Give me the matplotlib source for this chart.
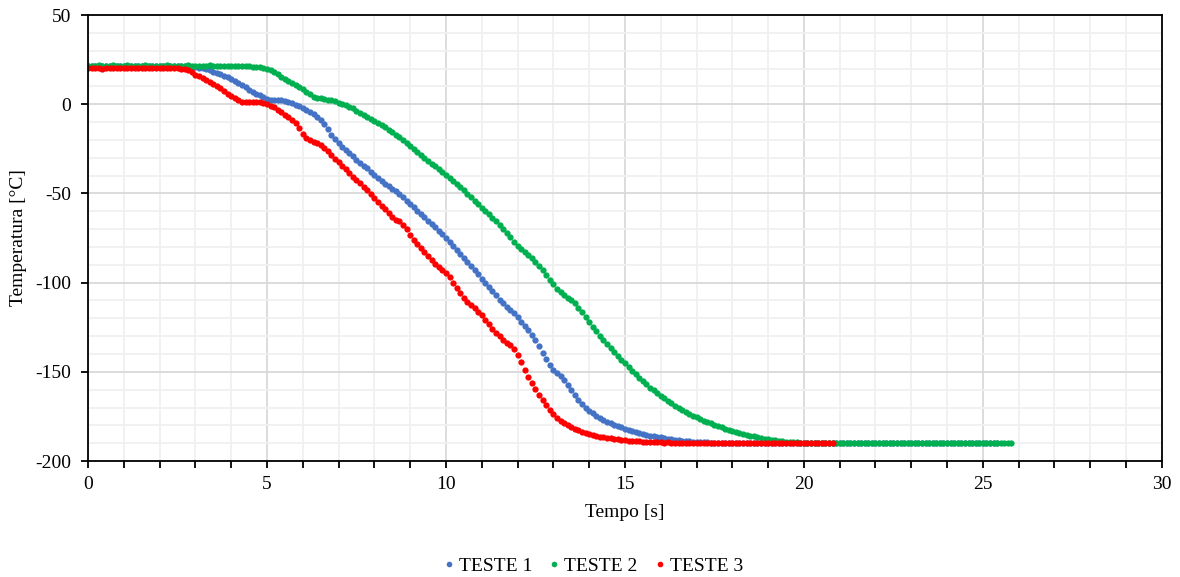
import numpy as np
import matplotlib
matplotlib.use("Agg")
import matplotlib.pyplot as plt
from matplotlib.ticker import MultipleLocator

# acquisition interval of the logger [s]
SAMPLE_DT = 0.1

# TESTE 1 temperatures [°C], one row per second
teste1 = [
    21.2, 21.3, 21.2, 21.4, 21.3, 21.2, 21.3, 21.4, 21.3, 21.2,
    21.3, 21.4, 21.3, 21.2, 21.3, 21.3, 21.4, 21.2, 21.3, 21.3,
    21.2, 21.3, 21.4, 21.3, 21.2, 21.3, 21.2, 21.3, 21.1, 21.0,
    20.8, 20.5, 20.1, 19.6, 19.0, 18.3, 17.6, 16.8, 15.9, 15.0,
    14.0, 12.9, 11.8, 10.7, 9.6, 8.2, 7.0, 5.9, 5.0, 3.9,
    3.0, 2.6, 2.4, 2.3, 2.1, 1.8, 1.3, 0.6, -0.2, -1.1,
    -2.0, -3.1, -4.3, -5.6, -7.0, -8.6, -11.0, -14.0, -17.0, -19.5,
    -22.0, -24.0, -25.8, -27.5, -29.3, -31.0, -32.8, -34.5, -36.0, -37.8,
    -39.6, -41.4, -43.0, -44.5, -46.0, -47.4, -48.9, -50.5, -52.2, -54.0,
    -55.8, -57.7, -59.6, -61.5, -63.4, -65.3, -67.2, -69.0, -71.0, -73.0,
    -75.0, -77.2, -79.4, -81.7, -84.0, -86.3, -88.6, -90.9, -93.1, -95.4,
    -97.7, -100.0, -102.4, -104.8, -107.2, -109.6, -111.6, -113.5, -115.3, -117.2,
    -119.4, -121.8, -124.2, -126.7, -129.2, -132.4, -135.8, -139.2, -142.6, -146.0,
    -149.0, -150.8, -152.6, -154.8, -157.4, -160.2, -163.0, -165.6, -168.0, -170.0,
    -171.8, -173.3, -174.7, -175.9, -177.0, -178.0, -178.9, -179.7, -180.5, -181.2,
    -181.9, -182.6, -183.2, -183.8, -184.3, -184.8, -185.3, -185.7, -186.1, -186.5,
    -186.8, -187.1, -187.4, -187.7, -188.0, -188.2, -188.5, -188.7, -188.9, -189.1,
    -189.3, -189.4, -189.5, -189.6, -189.7, -189.8, -189.7, -189.8, -189.9, -189.8,
    -189.8, -189.9, -189.7, -189.8, -189.9, -189.8, -189.8, -189.7, -189.9, -189.8,
    -189.9, -189.8, -189.8, -189.7, -189.8, -189.9, -189.8, -189.8, -189.9, -189.7,
    -189.8, -189.8, -189.9, -189.8, -189.7, -189.8, -189.9, -189.8, -189.8, -189.9,
    -189.8, -189.7, -189.8, -189.9, -189.8, -189.8, -189.7, -189.8, -189.9, -189.8,
    -189.8, -189.9, -189.8, -189.7, -189.8, -189.8, -189.9, -189.8, -189.8, -189.7,
    -189.9, -189.8, -189.8, -189.7, -189.8, -189.9, -189.8, -189.8, -189.7, -189.8,
    -189.8, -189.9, -189.8, -189.8, -189.7, -189.8, -189.9, -189.8, -189.8, -189.9,
    -189.8, -189.9, -189.8, -189.7, -189.8,
]

# TESTE 2 temperatures [°C]
teste2 = [
    21.5, 21.6, 21.5, 21.7, 21.6, 21.5, 21.6, 21.7, 21.6, 21.5,
    21.6, 21.7, 21.6, 21.5, 21.6, 21.6, 21.7, 21.5, 21.6, 21.6,
    21.5, 21.6, 21.7, 21.6, 21.5, 21.6, 21.5, 21.6, 21.7, 21.6,
    21.5, 21.6, 21.5, 21.6, 21.7, 21.6, 21.5, 21.6, 21.5, 21.6,
    21.6, 21.5, 21.6, 21.5, 21.5, 21.3, 21.1, 20.9, 20.6, 20.3,
    19.9, 19.2, 18.2, 16.9, 15.5, 14.2, 13.1, 12.1, 11.0, 9.8,
    8.5, 7.0, 5.5, 4.3, 3.6, 3.2, 2.9, 2.6, 2.2, 1.6,
    0.9, 0.3, -0.4, -1.3, -2.4, -3.6, -4.8, -6.0, -7.2, -8.3,
    -9.4, -10.6, -11.8, -13.0, -14.3, -15.7, -17.1, -18.5, -20.0, -21.6,
    -23.2, -24.9, -26.6, -28.3, -30.0, -31.7, -33.3, -34.9, -36.5, -38.2,
    -39.9, -41.5, -43.1, -44.6, -46.2, -48.1, -50.1, -52.1, -54.1, -56.1,
    -58.1, -60.0, -61.8, -63.6, -65.5, -67.6, -69.9, -72.3, -74.7, -77.1,
    -79.2, -81.0, -82.7, -84.4, -86.2, -88.3, -90.6, -93.1, -95.7, -98.4,
    -101.0, -103.3, -105.3, -107.0, -108.4, -109.8, -111.6, -114.0, -116.7, -119.5,
    -122.2, -124.8, -127.3, -129.7, -132.0, -134.3, -136.5, -138.7, -141.0, -143.2,
    -145.3, -147.4, -149.5, -151.5, -153.5, -155.4, -157.1, -158.8, -160.4, -162.0,
    -163.5, -164.9, -166.3, -167.6, -168.9, -170.1, -171.3, -172.4, -173.5, -174.5,
    -175.5, -176.4, -177.3, -178.1, -178.9, -179.7, -180.4, -181.1, -181.8, -182.4,
    -183.0, -183.6, -184.2, -184.7, -185.2, -185.7, -186.2, -186.6, -187.0, -187.4,
    -187.8, -188.1, -188.4, -188.7, -188.9, -189.1, -189.3, -189.5, -189.6, -189.7,
    -189.8, -189.9, -189.8, -190.0, -189.9, -190.0, -189.9, -190.1, -190.0, -189.9,
    -190.0, -190.1, -189.9, -190.0, -190.0, -189.9, -190.1, -190.0, -189.9, -190.0,
    -190.0, -189.9, -190.0, -190.1, -190.0, -189.9, -190.0, -190.0, -190.1, -189.9,
    -190.0, -190.0, -189.9, -190.0, -190.1, -190.0, -189.9, -190.0, -190.0, -190.1,
    -189.9, -190.0, -190.0, -190.1, -189.9, -190.0, -190.0, -189.9, -190.1, -190.0,
    -190.0, -189.9, -190.0, -190.1, -190.0, -190.0, -189.9, -190.0, -190.0,
]

# TESTE 3 temperatures [°C]
teste3 = [
    20.2, 20.1, 20.3, 20.2, 20.0, 20.2, 20.3, 20.1, 20.2, 20.3,
    20.2, 20.1, 20.2, 20.3, 20.2, 20.1, 20.2, 20.2, 20.3, 20.1,
    20.2, 20.3, 20.1, 20.2, 20.2, 20.1, 20.0, 19.6, 18.9, 17.8,
    16.6, 15.6, 14.6, 13.6, 12.6, 11.5, 10.3, 9.0, 7.5, 6.0,
    4.5, 3.2, 2.2, 1.5, 1.3, 1.3, 1.4, 1.3, 1.1, 0.6,
    0.0, -0.8, -1.8, -3.0, -4.4, -5.8, -7.2, -8.6, -10.6, -13.5,
    -16.6, -19.0, -20.3, -21.2, -22.0, -22.9, -24.3, -26.3, -28.5, -30.7,
    -32.6, -34.4, -36.5, -38.6, -40.6, -42.5, -44.3, -46.2, -48.2, -50.3,
    -52.4, -54.6, -56.8, -59.0, -61.2, -63.3, -64.8, -65.7, -67.6, -70.2,
    -73.1, -76.0, -78.5, -80.6, -82.7, -85.0, -87.4, -89.5, -91.3, -92.8,
    -94.6, -97.0, -100.0, -103.1, -106.0, -108.4, -110.6, -112.6, -114.5, -116.3,
    -118.3, -120.7, -123.3, -125.9, -128.2, -130.2, -132.0, -133.6, -135.2, -137.2,
    -140.3, -144.5, -148.8, -152.8, -156.4, -159.9, -163.1, -166.0, -168.8, -171.4,
    -173.7, -175.7, -177.3, -178.6, -179.8, -180.9, -181.9, -182.8, -183.6, -184.3,
    -184.9, -185.4, -185.9, -186.3, -186.7, -187.0, -187.3, -187.6, -187.9, -188.1,
    -188.3, -188.5, -188.7, -188.8, -188.9, -189.1, -189.2, -189.3, -189.4, -189.5,
    -189.6, -189.7, -189.6, -189.8, -189.7, -189.9, -189.8, -190.0, -189.8, -189.9,
    -190.0, -189.8, -189.9, -190.1, -189.9, -189.8, -190.0, -189.9, -190.1, -189.9,
    -189.8, -190.0, -189.9, -190.0, -190.1, -189.9, -189.8, -190.0, -189.9, -190.0,
    -190.1, -189.9, -190.0, -189.8, -190.0, -189.9, -190.1, -190.0, -189.9, -190.0,
    -189.9, -190.0, -190.1, -189.9, -190.0, -189.8, -190.0, -189.9, -190.0,
]

series_names = ["TESTE 1", "TESTE 2", "TESTE 3"]
series_values = [teste1, teste2, teste3]
series_colors = ["#4472C4", "#00B050", "#FF0000"]

plt.rcParams["font.family"] = ["Liberation Serif", "DejaVu Serif"]
plt.rcParams["axes.unicode_minus"] = False

fig = plt.figure(figsize=(11.8, 5.77), dpi=100)
ax = fig.add_axes([0.0746, 0.201, 0.910, 0.773])

for name, vals, col in zip(series_names, series_values, series_colors):
    t = np.arange(len(vals)) * SAMPLE_DT
    ax.plot(t, vals, linestyle="none", marker="o", markersize=4.5,
            markeredgewidth=0, color=col, label=name)

ax.set_xlim(0, 30)
ax.set_ylim(-200, 50)
ax.xaxis.set_major_locator(MultipleLocator(5))
ax.xaxis.set_minor_locator(MultipleLocator(1))
ax.yaxis.set_major_locator(MultipleLocator(50))
ax.yaxis.set_minor_locator(MultipleLocator(10))

ax.grid(which="major", color="#D9D9D9", linewidth=1.3)
ax.grid(which="minor", color="#F0F0F0", linewidth=1.3)
ax.set_axisbelow(True)

for s in ax.spines.values():
    s.set_color("black")
    s.set_linewidth(1.3)

ax.tick_params(axis="both", which="major", direction="out", length=5,
               width=1.3, labelsize=14, colors="black")
ax.tick_params(axis="x", which="major", pad=6)
ax.tick_params(axis="y", which="major", pad=7)
ax.tick_params(axis="x", which="minor", direction="out", length=5, width=1.3)
ax.tick_params(axis="y", which="minor", length=0)

ax.set_xlabel("Tempo [s]", fontsize=14, labelpad=8)
ax.set_ylabel("Temperatura [°C]", fontsize=14, labelpad=6)

fig.legend(loc="lower center", bbox_to_anchor=(0.503, -0.027), ncol=3,
           frameon=False, fontsize=14, markerscale=0.9,
           handlelength=0.5, handletextpad=0.25, columnspacing=0.9)

fig.savefig("out.png", dpi=100)
